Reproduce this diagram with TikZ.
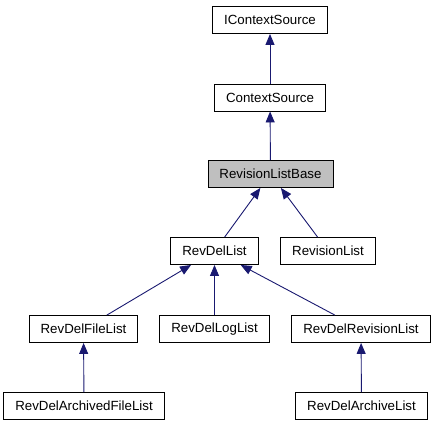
\documentclass[tikz,border=0pt]{standalone}
\usepackage{fontspec}
\setmainfont{Liberation Sans}
\usetikzlibrary{arrows.meta}
\definecolor{edgeblue}{HTML}{191970}
\begin{document}
\begin{tikzpicture}[x=1bp,y=-1bp,
  cls/.style={draw=black,line width=0.9bp,fill=white,minimum height=27bp,inner xsep=11.5bp,inner ysep=0bp,font=\fontsize{13.3bp}{16bp}\selectfont},
  cur/.style={cls,fill=black!25},
  edge/.style={draw=edgeblue,line width=0.9bp,-{Triangle[length=11bp,width=9bp]}}]
\useasboundingbox (0,0) rectangle (436,427);
\node[cls] (ics) at (270,20) {IContextSource};
\node[cls] (cs) at (270,97.5) {ContextSource};
\node[cur] (rlb) at (270.5,174) {RevisionListBase};
\node[cls] (rdl) at (214.5,251) {RevDelList};
\node[cls] (rl) at (328,251) {RevisionList};
\node[cls] (rdfl) at (83.5,329) {RevDelFileList};
\node[cls] (rdll) at (214.5,329) {RevDelLogList};
\node[cls] (rdrl) at (361,329) {RevDelRevisionList};
\node[cls] (rdafl) at (84,406) {RevDelArchivedFileList};
\node[cls] (rdal) at (361.5,406) {RevDelArchiveList};
\draw[edge] (cs) -- (ics);
\draw[edge] (rlb) -- (cs);
\draw[edge] (rdl) -- (rlb);
\draw[edge] (rl) -- (rlb);
\draw[edge] (rdfl) -- (rdl);
\draw[edge] (rdll) -- (rdl);
\draw[edge] (rdrl) -- (rdl);
\draw[edge] (rdafl) -- (rdfl);
\draw[edge] (rdal) -- (rdrl);
\end{tikzpicture}
\end{document}
